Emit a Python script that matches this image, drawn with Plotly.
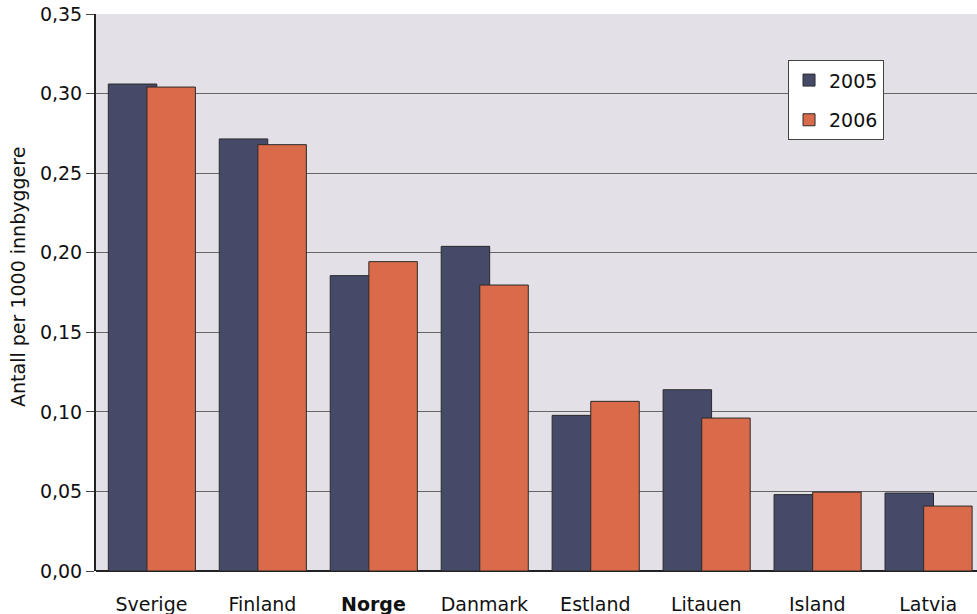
import plotly.graph_objects as go

categories = ["Sverige", "Finland", "Norge", "Danmark", "Estland", "Litauen", "Island", "Latvia"]
tick_labels = ["Sverige", "Finland", "<b>Norge</b>", "Danmark", "Estland", "Litauen", "Island", "Latvia"]
values_2005 = [0.306, 0.2715, 0.1856, 0.2040, 0.0978, 0.1139, 0.0480, 0.0490]
values_2006 = [0.3041, 0.2679, 0.1944, 0.1797, 0.1066, 0.0961, 0.0496, 0.0408]
y_ticks = [0, 0.05, 0.10, 0.15, 0.20, 0.25, 0.30, 0.35]
y_title = "Antall per 1000 innbyggere"

font = "DejaVu Sans, Verdana, sans-serif"
fs = 19

fig = go.Figure()
fig.add_trace(go.Bar(
    x=categories, y=values_2005, name="2005",
    marker=dict(color="#464A69", line=dict(color="#2a2a2a", width=1)),
    width=0.437, offset=-0.389, legendgroup="a",
))
fig.add_trace(go.Bar(
    x=categories, y=values_2006, name="2006",
    marker=dict(color="#DA6B4A", line=dict(color="#2a2a2a", width=1)),
    width=0.437, offset=-0.041, legendgroup="b",
))

fig.add_annotation(
    text=y_title, textangle=-90,
    xref="paper", yref="paper", x=-0.0885, y=0.528,
    xanchor="center", yanchor="middle", showarrow=False,
    font=dict(size=fs, family=font, color="#111"),
)

fig.update_layout(
    width=977, height=614,
    margin=dict(l=96, r=0, t=14, b=43),
    barmode="overlay",
    paper_bgcolor="white",
    plot_bgcolor="#E3E1E7",
    separators=",.",
    font=dict(family=font, size=fs, color="#111"),
    showlegend=True,
    legend=dict(
        x=0.7855, y=0.917, xanchor="left", yanchor="top",
        bgcolor="white", bordercolor="#444", borderwidth=1,
        font=dict(size=fs, family=font, color="#111"),
        traceorder="grouped", tracegroupgap=12,
        itemwidth=30,
    ),
    xaxis=dict(
        type="category",
        categoryorder="array", categoryarray=categories,
        tickvals=categories, ticktext=tick_labels,
        range=[-0.5, 7.44],
        showgrid=False, showline=False, ticks="",
        tickfont=dict(size=fs, family=font, color="#111"),
        ticklabelstandoff=20,
    ),
    yaxis=dict(
        range=[0, 0.35],
        tickvals=y_ticks, tickformat=".2f",
        showgrid=True, gridcolor="#666666", gridwidth=1,
        showline=True, linecolor="#222", linewidth=2,
        ticks="outside", ticklen=8, tickcolor="#444", tickwidth=1,
        zeroline=True, zerolinecolor="#222", zerolinewidth=2,
        tickfont=dict(size=fs, family=font, color="#111"),
    ),
)

fig.write_html(
    "out.html",
    config={"displayModeBar": False},
    post_script="document.body.style.margin='0';document.body.style.overflow='hidden';",
)
